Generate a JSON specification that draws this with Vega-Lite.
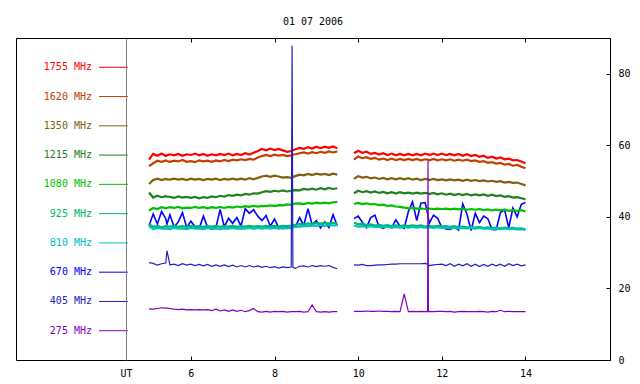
{
 "$schema": "https://vega.github.io/schema/vega-lite/v6.json",
 "padding": {"left": 15, "top": 17, "right": 5, "bottom": 5},
 "bounds": "flush",
 "spacing": 0,
 "title": {"text": "01 07 2006", "font": "DejaVu Sans Mono", "fontSize": 10, "fontWeight": "normal", "color": "#000", "anchor": "middle", "offset": 10, "dx": -10},
 "config": {"view": {"stroke": "black"}, "font": "DejaVu Sans Mono", "axis": {"labelFont": "DejaVu Sans Mono", "labelFontSize": 10, "labelColor": "#000", "domainColor": "#000", "tickColor": "#000", "grid": false}},
 "datasets": {
  "legend": [
   {"label": "1755 MHz", "k": "a"}, {"label": "1620 MHz", "k": "b"}, {"label": "1350 MHz", "k": "c"}, {"label": "1215 MHz", "k": "d"}, {"label": "1080 MHz", "k": "e"},
   {"label": "925 MHz", "k": "f"}, {"label": "810 MHz", "k": "g"}, {"label": "670 MHz", "k": "h"}, {"label": "405 MHz", "k": "i"}, {"label": "275 MHz", "k": "j"}
  ],
  "series": [
   {"t":5.0,"s":1,"a":56.0,"b":54.2,"c":49.2,"d":46.8,"e":41.8,"f":38.0,"g":37.4,"h":37.5,"i":27.2,"j":14.3},
   {"t":5.1,"s":1,"a":57.6,"b":55.0,"c":50.3,"d":45.4,"e":42.5,"f":37.2,"g":36.6,"h":40.8,"i":27.0,"j":14.2},
   {"t":5.2,"s":1,"a":57.1,"b":55.7,"c":50.7,"d":45.9,"e":42.2,"f":37.5,"g":36.9,"h":38.0,"i":26.5,"j":14.4},
   {"t":5.3,"s":1,"a":57.7,"b":55.4,"c":50.3,"d":45.5,"e":42.7,"f":37.1,"g":36.7,"h":41.5,"i":26.9,"j":14.6},
   {"t":5.4,"s":1,"a":57.0,"b":55.8,"c":50.6,"d":45.8,"e":42.4,"f":37.4,"g":36.8,"h":39.5,"i":27.1,"j":14.5},
   {"t":5.43,"s":1,"a":57.2,"b":55.6,"c":50.5,"d":45.7,"e":42.5,"f":37.3,"g":36.7,"h":38.0,"i":30.5,"j":14.5},
   {"t":5.5,"s":1,"a":57.5,"b":55.4,"c":50.4,"d":45.6,"e":42.7,"f":37.3,"g":36.6,"h":40.6,"i":26.6,"j":14.4},
   {"t":5.6,"s":1,"a":57.2,"b":55.7,"c":50.7,"d":45.3,"e":42.5,"f":37.5,"g":36.9,"h":37.2,"i":26.8,"j":14.2},
   {"t":5.7,"s":1,"a":57.6,"b":55.5,"c":50.4,"d":45.7,"e":42.8,"f":37.2,"g":36.7,"h":38.6,"i":26.4,"j":14.1},
   {"t":5.8,"s":1,"a":57.1,"b":55.9,"c":50.6,"d":45.4,"e":42.4,"f":37.4,"g":36.8,"h":41.2,"i":26.9,"j":14.2},
   {"t":5.9,"s":1,"a":57.5,"b":55.4,"c":50.3,"d":45.6,"e":42.6,"f":37.2,"g":36.6,"h":37.0,"i":26.5,"j":14.0},
   {"t":6.0,"s":1,"a":57.3,"b":55.6,"c":50.7,"d":45.3,"e":42.5,"f":37.5,"g":36.9,"h":38.8,"i":26.8,"j":14.1},
   {"t":6.1,"s":1,"a":57.7,"b":55.3,"c":50.4,"d":45.6,"e":42.8,"f":37.3,"g":36.7,"h":37.3,"i":26.4,"j":14.0},
   {"t":6.2,"s":1,"a":57.2,"b":55.8,"c":50.6,"d":45.2,"e":42.5,"f":37.4,"g":36.8,"h":36.8,"i":26.7,"j":14.1},
   {"t":6.3,"s":1,"a":57.6,"b":55.5,"c":50.3,"d":45.5,"e":42.7,"f":37.2,"g":36.6,"h":40.2,"i":26.3,"j":14.0},
   {"t":6.4,"s":1,"a":57.1,"b":55.7,"c":50.6,"d":45.3,"e":42.4,"f":37.4,"g":36.9,"h":37.1,"i":26.7,"j":14.1},
   {"t":6.5,"s":1,"a":57.5,"b":55.4,"c":50.4,"d":45.7,"e":42.7,"f":37.3,"g":36.7,"h":36.6,"i":26.2,"j":13.8},
   {"t":6.6,"s":1,"a":57.2,"b":55.8,"c":50.7,"d":45.5,"e":42.5,"f":37.5,"g":36.8,"h":37.0,"i":26.6,"j":14.2},
   {"t":6.7,"s":1,"a":57.6,"b":55.5,"c":50.3,"d":45.9,"e":42.8,"f":37.2,"g":36.6,"h":42.1,"i":26.2,"j":13.7},
   {"t":6.8,"s":1,"a":57.3,"b":55.9,"c":50.6,"d":45.7,"e":42.5,"f":37.4,"g":36.8,"h":37.2,"i":26.6,"j":14.0},
   {"t":6.9,"s":1,"a":57.7,"b":55.6,"c":50.4,"d":46.1,"e":42.8,"f":37.3,"g":36.7,"h":39.6,"i":26.1,"j":13.6},
   {"t":7.0,"s":1,"a":57.2,"b":56.0,"c":50.7,"d":45.9,"e":42.6,"f":37.5,"g":36.9,"h":38.2,"i":26.5,"j":14.0},
   {"t":7.1,"s":1,"a":57.6,"b":55.8,"c":50.4,"d":46.2,"e":42.9,"f":37.2,"g":36.7,"h":39.8,"i":26.0,"j":13.6},
   {"t":7.2,"s":1,"a":57.3,"b":56.1,"c":50.7,"d":46.0,"e":42.7,"f":37.4,"g":36.8,"h":37.4,"i":26.4,"j":13.9},
   {"t":7.3,"s":1,"a":57.8,"b":55.9,"c":50.4,"d":46.4,"e":43.0,"f":37.3,"g":36.7,"h":42.3,"i":26.0,"j":13.5},
   {"t":7.4,"s":1,"a":57.4,"b":56.2,"c":50.8,"d":46.2,"e":42.8,"f":37.5,"g":36.9,"h":41.0,"i":26.4,"j":13.8},
   {"t":7.5,"s":1,"a":57.9,"b":56.0,"c":50.5,"d":46.6,"e":43.1,"f":37.3,"g":36.7,"h":42.0,"i":26.0,"j":14.4},
   {"t":7.6,"s":1,"a":58.4,"b":56.6,"c":50.9,"d":46.5,"e":42.9,"f":37.4,"g":36.9,"h":40.2,"i":26.3,"j":13.5},
   {"t":7.7,"s":1,"a":59.0,"b":57.0,"c":51.3,"d":46.9,"e":43.1,"f":37.3,"g":36.7,"h":39.0,"i":25.9,"j":13.4},
   {"t":7.8,"s":1,"a":58.6,"b":57.3,"c":51.5,"d":47.2,"e":43.0,"f":37.5,"g":36.9,"h":40.4,"i":26.2,"j":13.6},
   {"t":7.9,"s":1,"a":59.1,"b":57.0,"c":51.2,"d":47.0,"e":43.2,"f":37.3,"g":36.7,"h":37.4,"i":25.8,"j":13.4},
   {"t":8.0,"s":1,"a":58.7,"b":57.4,"c":51.5,"d":47.3,"e":43.0,"f":37.5,"g":36.9,"h":39.4,"i":26.1,"j":13.6},
   {"t":8.1,"s":1,"a":59.0,"b":57.1,"c":51.3,"d":47.1,"e":43.3,"f":37.3,"g":36.7,"h":37.0,"i":25.7,"j":13.5},
   {"t":8.2,"s":1,"a":58.6,"b":57.3,"c":51.0,"d":47.4,"e":43.2,"f":37.5,"g":36.9,"h":36.7,"i":26.0,"j":13.6},
   {"t":8.3,"s":1,"a":58.2,"b":57.0,"c":51.1,"d":47.1,"e":43.5,"f":37.4,"g":36.8,"h":37.1,"i":25.8,"j":13.4},
   {"t":8.4,"s":1,"a":58.4,"b":57.2,"c":50.9,"d":47.3,"e":43.4,"f":37.6,"g":37.0,"h":36.8,"i":26.0,"j":13.5},
   {"t":8.42,"s":1,"a":58.5,"b":57.3,"c":51.0,"d":47.4,"e":43.5,"f":37.7,"g":37.1,"h":37.0,"i":87.8,"j":13.5},
   {"t":8.44,"s":1,"a":58.6,"b":57.4,"c":51.2,"d":47.4,"e":43.6,"f":37.7,"g":37.1,"h":37.1,"i":25.9,"j":13.5},
   {"t":8.5,"s":1,"a":58.9,"b":57.5,"c":51.4,"d":47.5,"e":43.7,"f":37.8,"g":37.2,"h":37.3,"i":25.6,"j":13.5},
   {"t":8.6,"s":1,"a":59.3,"b":57.8,"c":51.8,"d":47.4,"e":43.8,"f":38.0,"g":37.3,"h":39.8,"i":26.2,"j":13.6},
   {"t":8.7,"s":1,"a":59.0,"b":58.0,"c":51.6,"d":47.8,"e":43.6,"f":37.9,"g":37.5,"h":37.6,"i":26.3,"j":13.4},
   {"t":8.8,"s":1,"a":59.5,"b":57.7,"c":52.0,"d":47.6,"e":43.9,"f":38.2,"g":37.4,"h":42.3,"i":26.0,"j":13.5},
   {"t":8.9,"s":1,"a":59.1,"b":58.1,"c":51.7,"d":47.9,"e":43.7,"f":38.0,"g":37.6,"h":37.8,"i":26.4,"j":15.4},
   {"t":9.0,"s":1,"a":59.6,"b":57.8,"c":52.1,"d":47.6,"e":44.0,"f":38.3,"g":37.5,"h":39.0,"i":26.1,"j":13.5},
   {"t":9.1,"s":1,"a":59.2,"b":58.2,"c":51.8,"d":48.0,"e":43.8,"f":38.1,"g":37.7,"h":36.9,"i":26.4,"j":13.4},
   {"t":9.2,"s":1,"a":59.6,"b":57.9,"c":52.0,"d":47.7,"e":44.0,"f":38.3,"g":37.5,"h":38.6,"i":26.2,"j":13.5},
   {"t":9.3,"s":1,"a":59.3,"b":58.3,"c":51.7,"d":48.1,"e":43.8,"f":38.1,"g":37.7,"h":37.0,"i":26.4,"j":13.4},
   {"t":9.4,"s":1,"a":59.7,"b":58.0,"c":52.1,"d":47.8,"e":44.1,"f":38.3,"g":37.6,"h":40.6,"i":25.9,"j":13.5},
   {"t":9.5,"s":1,"a":59.2,"b":58.3,"c":51.8,"d":48.0,"e":44.2,"f":38.2,"g":37.7,"h":37.5,"i":25.5,"j":13.5},
   {"t":9.9,"s":2,"a":57.8,"b":56.0,"c":50.6,"d":46.6,"e":43.6,"f":38.4,"g":37.6,"h":39.5,"i":26.6,"j":13.6},
   {"t":10.0,"s":2,"a":58.5,"b":56.9,"c":51.4,"d":47.3,"e":43.9,"f":37.9,"g":37.3,"h":40.2,"i":26.5,"j":13.6},
   {"t":10.1,"s":2,"a":57.9,"b":56.4,"c":51.0,"d":46.9,"e":43.6,"f":38.1,"g":37.4,"h":38.5,"i":26.7,"j":13.6},
   {"t":10.2,"s":2,"a":58.2,"b":56.7,"c":51.2,"d":47.2,"e":43.8,"f":37.7,"g":37.2,"h":37.0,"i":26.4,"j":13.7},
   {"t":10.3,"s":2,"a":57.6,"b":56.2,"c":50.8,"d":46.8,"e":43.5,"f":37.9,"g":37.4,"h":39.8,"i":26.4,"j":13.6},
   {"t":10.4,"s":2,"a":57.9,"b":56.5,"c":51.0,"d":47.1,"e":43.6,"f":37.6,"g":37.2,"h":40.5,"i":26.5,"j":13.6},
   {"t":10.5,"s":2,"a":57.4,"b":56.0,"c":50.6,"d":46.7,"e":43.3,"f":37.8,"g":37.3,"h":37.2,"i":26.6,"j":13.7},
   {"t":10.6,"s":2,"a":57.8,"b":56.3,"c":50.9,"d":47.0,"e":43.4,"f":37.5,"g":37.1,"h":36.8,"i":26.6,"j":13.6},
   {"t":10.7,"s":2,"a":57.3,"b":55.9,"c":50.5,"d":46.6,"e":43.1,"f":37.7,"g":37.3,"h":37.6,"i":26.7,"j":13.6},
   {"t":10.8,"s":2,"a":57.7,"b":56.3,"c":50.8,"d":46.9,"e":43.2,"f":37.4,"g":37.0,"h":36.9,"i":26.8,"j":13.5},
   {"t":10.9,"s":2,"a":57.2,"b":55.9,"c":50.5,"d":46.5,"e":42.9,"f":37.6,"g":37.2,"h":39.2,"i":26.8,"j":13.6},
   {"t":11.0,"s":2,"a":57.6,"b":56.2,"c":50.8,"d":46.9,"e":42.8,"f":37.4,"g":37.0,"h":37.4,"i":26.9,"j":13.5},
   {"t":11.1,"s":2,"a":57.2,"b":55.9,"c":50.5,"d":46.6,"e":42.6,"f":37.6,"g":37.2,"h":36.8,"i":26.9,"j":18.5},
   {"t":11.2,"s":2,"a":57.6,"b":56.2,"c":50.8,"d":46.8,"e":42.4,"f":37.4,"g":37.0,"h":41.5,"i":26.9,"j":13.5},
   {"t":11.3,"s":2,"a":57.2,"b":55.9,"c":50.4,"d":46.5,"e":42.5,"f":37.6,"g":37.2,"h":44.2,"i":26.9,"j":13.6},
   {"t":11.4,"s":2,"a":57.6,"b":56.2,"c":50.7,"d":46.8,"e":42.3,"f":37.4,"g":37.0,"h":39.0,"i":26.9,"j":13.5},
   {"t":11.5,"s":2,"a":57.2,"b":55.8,"c":50.3,"d":46.5,"e":42.4,"f":37.6,"g":37.2,"h":43.8,"i":26.9,"j":13.6},
   {"t":11.6,"s":2,"a":57.7,"b":56.1,"c":50.6,"d":46.7,"e":42.2,"f":37.3,"g":37.0,"h":44.0,"i":27.0,"j":13.5},
   {"t":11.66,"s":2,"a":57.5,"b":56.0,"c":50.5,"d":46.6,"e":42.2,"f":37.4,"g":37.0,"h":41.0,"i":26.8,"j":13.5},
   {"t":11.67,"s":2,"a":57.5,"b":56.0,"c":50.5,"d":46.6,"e":42.2,"f":37.4,"g":37.0,"h":40.0,"i":26.7,"j":55.6},
   {"t":11.68,"s":2,"a":57.4,"b":55.9,"c":50.4,"d":46.5,"e":42.3,"f":37.5,"g":37.1,"h":39.5,"i":26.6,"j":13.5},
   {"t":11.7,"s":2,"a":57.3,"b":55.8,"c":50.3,"d":46.4,"e":42.3,"f":37.5,"g":37.1,"h":38.2,"i":26.4,"j":13.6},
   {"t":11.8,"s":2,"a":57.7,"b":56.2,"c":50.6,"d":46.7,"e":42.2,"f":37.3,"g":36.9,"h":40.5,"i":26.6,"j":13.5},
   {"t":11.9,"s":2,"a":57.3,"b":55.8,"c":50.3,"d":46.3,"e":42.3,"f":37.5,"g":37.1,"h":39.6,"i":26.7,"j":13.6},
   {"t":12.0,"s":2,"a":57.7,"b":56.1,"c":50.5,"d":46.6,"e":42.2,"f":37.3,"g":36.9,"h":37.0,"i":26.8,"j":13.6},
   {"t":12.1,"s":2,"a":57.3,"b":55.8,"c":50.2,"d":46.2,"e":42.3,"f":37.4,"g":37.0,"h":36.6,"i":26.4,"j":13.5},
   {"t":12.2,"s":2,"a":57.6,"b":56.1,"c":50.5,"d":46.5,"e":42.1,"f":37.2,"g":36.8,"h":36.5,"i":26.9,"j":13.6},
   {"t":12.3,"s":2,"a":57.2,"b":55.7,"c":50.2,"d":46.1,"e":42.3,"f":37.4,"g":37.0,"h":37.2,"i":26.2,"j":13.4},
   {"t":12.4,"s":2,"a":57.6,"b":56.0,"c":50.4,"d":46.4,"e":42.1,"f":37.1,"g":36.8,"h":36.3,"i":26.8,"j":13.5},
   {"t":12.5,"s":2,"a":57.1,"b":55.7,"c":50.1,"d":46.1,"e":42.3,"f":37.3,"g":36.9,"h":43.6,"i":26.3,"j":13.6},
   {"t":12.6,"s":2,"a":57.5,"b":56.0,"c":50.4,"d":46.4,"e":42.0,"f":37.0,"g":36.8,"h":40.8,"i":26.9,"j":13.5},
   {"t":12.7,"s":2,"a":57.0,"b":55.6,"c":50.1,"d":46.0,"e":42.2,"f":37.2,"g":36.9,"h":36.2,"i":26.2,"j":13.5},
   {"t":12.8,"s":2,"a":57.3,"b":55.8,"c":50.3,"d":46.3,"e":42.0,"f":37.0,"g":36.7,"h":41.0,"i":26.8,"j":13.5},
   {"t":12.9,"s":2,"a":56.8,"b":55.4,"c":50.0,"d":46.0,"e":42.2,"f":37.2,"g":36.9,"h":38.4,"i":26.1,"j":13.6},
   {"t":13.0,"s":2,"a":57.1,"b":55.6,"c":50.2,"d":46.3,"e":41.9,"f":36.9,"g":36.7,"h":40.2,"i":26.7,"j":13.5},
   {"t":13.1,"s":2,"a":56.5,"b":55.1,"c":49.9,"d":45.9,"e":42.1,"f":37.1,"g":36.8,"h":39.5,"i":26.2,"j":13.4},
   {"t":13.2,"s":2,"a":56.8,"b":55.3,"c":50.1,"d":46.2,"e":41.8,"f":36.9,"g":36.6,"h":36.5,"i":26.8,"j":13.6},
   {"t":13.3,"s":2,"a":56.3,"b":54.9,"c":49.8,"d":45.8,"e":42.0,"f":37.0,"g":36.7,"h":36.4,"i":26.3,"j":13.5},
   {"t":13.4,"s":2,"a":56.6,"b":55.1,"c":50.0,"d":46.0,"e":41.8,"f":36.8,"g":36.6,"h":41.2,"i":26.8,"j":13.9},
   {"t":13.5,"s":2,"a":56.1,"b":54.6,"c":49.6,"d":45.6,"e":42.0,"f":37.0,"g":36.8,"h":42.0,"i":26.2,"j":13.5},
   {"t":13.6,"s":2,"a":56.3,"b":54.8,"c":49.8,"d":45.8,"e":41.7,"f":36.8,"g":36.6,"h":37.0,"i":26.9,"j":13.6},
   {"t":13.7,"s":2,"a":55.8,"b":54.3,"c":49.5,"d":45.4,"e":41.9,"f":36.9,"g":36.7,"h":42.5,"i":26.4,"j":13.5},
   {"t":13.8,"s":2,"a":55.9,"b":54.5,"c":49.6,"d":45.5,"e":41.6,"f":36.7,"g":36.5,"h":40.0,"i":26.8,"j":13.5},
   {"t":13.9,"s":2,"a":55.5,"b":54.0,"c":49.2,"d":45.2,"e":41.9,"f":36.8,"g":36.6,"h":43.5,"i":26.3,"j":13.5},
   {"t":14.0,"s":2,"a":55.0,"b":53.6,"c":48.8,"d":44.9,"e":41.5,"f":36.5,"g":36.4,"h":44.0,"i":26.6,"j":13.5}
  ]
 },
 "hconcat": [
  {
   "width": 110,
   "height": 322,
   "view": {"stroke": "black"},
   "data": {"name": "legend"},
   "layer": [
    {
     "mark": {"type": "text", "align": "right", "baseline": "middle", "font": "DejaVu Sans Mono", "fontSize": 10, "x": 76},
     "encoding": {
      "y": {"field": "label", "type": "ordinal", "sort": null, "scale": {"type": "point", "padding": 1.04}, "axis": null},
      "text": {"field": "label"},
      "color": {"field": "k", "type": "nominal", "scale": {"domain": ["a","b","c","d","e","f","g","h","i","j"], "range": ["#ff0000","#c04000","#80600c","#208020","#00c000","#00b868","#00c0c0","#0000ff","#2020c0","#8000c0"]}, "legend": null}
     }
    },
    {
     "mark": {"type": "rule", "x": 83, "x2": 112, "strokeWidth": 1},
     "encoding": {
      "y": {"field": "label", "type": "ordinal", "sort": null, "scale": {"type": "point", "padding": 1.04}, "axis": null},
      "color": {"field": "k", "type": "nominal", "scale": {"domain": ["a","b","c","d","e","f","g","h","i","j"], "range": ["#ff0000","#c04000","#80600c","#208020","#00c000","#00b868","#00c0c0","#0000ff","#2020c0","#8000c0"]}, "legend": null}
     }
    }
   ]
  },
  {
   "width": 484,
   "height": 322,
   "view": {"stroke": "#808080"},
   "data": {"name": "series"},
   "transform": [{"fold": ["b","a","c","d","e","h","f","g","i","j"], "as": ["k","v"]}],
   "encoding": {
    "y": {"field": "v", "type": "quantitative", "scale": {"domain": [0, 90], "nice": false},
          "axis": {"orient": "right", "values": [0,20,40,60,80], "tickSize": -4, "labelPadding": 12, "labelFlush": false, "title": null}},
    "color": {"field": "k", "type": "nominal", "scale": {"domain": ["a","b","c","d","e","f","g","h","i","j"], "range": ["#ff0000","#c04000","#80600c","#208020","#00c000","#00b868","#00c0c0","#0000ff","#2020c0","#8000c0"]}, "legend": null},
    "detail": {"field": "s", "type": "nominal"}
   },
   "layer": [
    {
     "transform": [{"filter": {"field": "k", "oneOf": ["h"]}}],
     "mark": {"type": "line", "clip": true, "strokeWidth": 1.6},
     "encoding": {
      "x": {"field": "t", "type": "quantitative", "scale": {"domain": [4.45, 16.02], "nice": false, "zero": false},
            "axis": {"orient": "bottom", "values": [6,8,10,12,14], "tickSize": -4, "labelPadding": 12, "labelFlush": false, "title": "UT", "titleX": 0, "titleY": 8, "titleAlign": "center", "titleBaseline": "top", "titleFont": "DejaVu Sans Mono", "titleFontSize": 10, "titleFontWeight": "normal", "titleColor": "#000"}}
     }
    },
    {
     "transform": [{"filter": {"field": "k", "oneOf": ["a","b","c","d","e","f","g"]}}],
     "mark": {"type": "line", "clip": true, "strokeWidth": 2.2},
     "encoding": {"x": {"field": "t", "type": "quantitative", "axis": null}}
    },
    {
     "transform": [{"filter": {"field": "k", "oneOf": ["i","j"]}}],
     "mark": {"type": "line", "clip": true, "strokeWidth": 1.2},
     "encoding": {"x": {"field": "t", "type": "quantitative", "axis": null}}
    },
    {
     "mark": {"type": "point", "opacity": 0},
     "encoding": {
      "x": {"field": "t", "type": "quantitative", "axis": {"orient": "top", "values": [6,8,10,12,14], "tickSize": -4, "labels": false, "title": null}}
     }
    }
   ],
   "resolve": {"axis": {"x": "independent"}}
  }
 ]
}
